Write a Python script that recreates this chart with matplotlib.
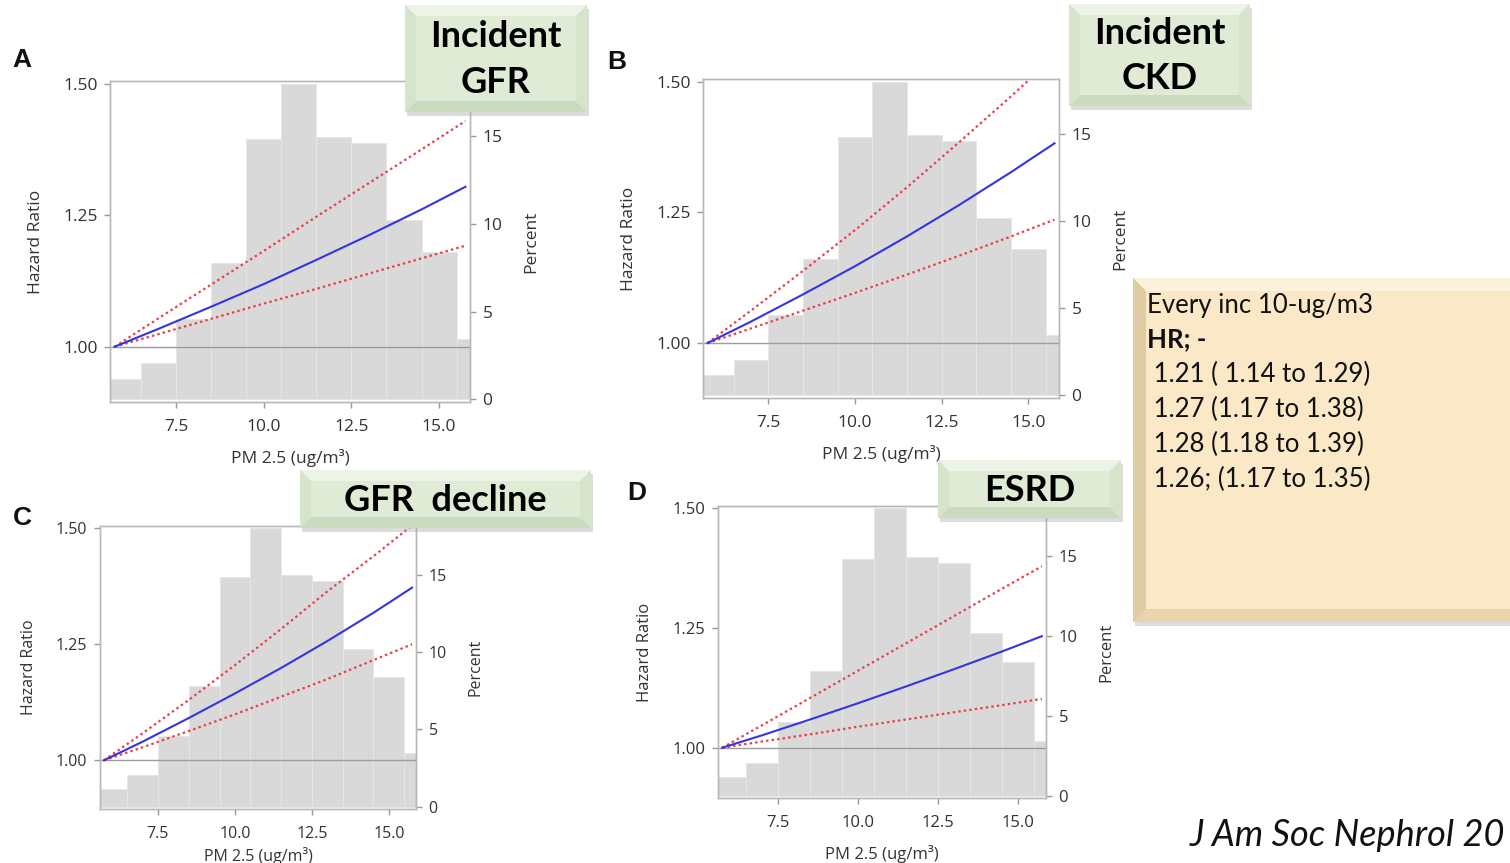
import matplotlib
matplotlib.use("Agg")
import matplotlib.pyplot as plt
from matplotlib.patches import Polygon, Rectangle

W, H = 1510, 863
DPI = 100

# histogram of PM2.5 exposure, identical in all four panels (percent of cohort)
pm_bins = [6, 7, 8, 9, 10, 11, 12, 13, 14, 15, 16]
pm_percent = [1.15, 2.05, 4.6, 7.8, 14.85, 18.0, 14.95, 14.6, 10.2, 8.4, 3.45]

# hazard ratio curves
curve_x = [5.75, 7.0, 8.5, 10.0, 11.5, 13.0, 14.5, 15.75]

hr_a = [1.0, 1.034, 1.076, 1.119, 1.165, 1.212, 1.261, 1.304]
hi_a = [1.0, 1.054, 1.118, 1.182, 1.247, 1.311, 1.375, 1.429]
lo_a = [1.0, 1.024, 1.053, 1.082, 1.110, 1.139, 1.168, 1.192]

hr_b = [1.0, 1.041, 1.093, 1.147, 1.204, 1.264, 1.327, 1.382]
hi_b = [1.0, 1.062, 1.138, 1.216, 1.298, 1.384, 1.472, 1.548]
lo_b = [1.0, 1.028, 1.062, 1.096, 1.131, 1.167, 1.204, 1.236]

hr_c = [1.0, 1.040, 1.091, 1.144, 1.199, 1.257, 1.318, 1.372]
hi_c = [1.0, 1.058, 1.130, 1.205, 1.283, 1.364, 1.440, 1.506]
lo_c = [1.0, 1.028, 1.063, 1.099, 1.137, 1.175, 1.216, 1.250]

hr_d = [1.0, 1.026, 1.059, 1.093, 1.128, 1.164, 1.201, 1.233]
hi_d = [1.0, 1.047, 1.104, 1.161, 1.218, 1.275, 1.332, 1.379]
lo_d = [1.0, 1.013, 1.028, 1.044, 1.059, 1.074, 1.089, 1.102]

hr_ticks = [1.0, 1.25, 1.5]
pct_ticks = [0, 5, 10, 15]
pm_ticks = [7.5, 10.0, 12.5, 15.0]

panel_letters = ["A", "B", "C", "D"]
box_titles = ["Incident\nGFR", "Incident\nCKD", "GFR  decline", "ESRD"]
info_lines = ["Every inc 10-ug/m3", "HR; -", " 1.21 ( 1.14 to 1.29)",
              " 1.27 (1.17 to 1.38)", " 1.28 (1.18 to 1.39)", " 1.26; (1.17 to 1.35)"]
citation = "J Am Soc Nephrol 20"

FONT = ["Open Sans", "DejaVu Sans"]
plt.rcParams["font.family"] = FONT

fig = plt.figure(figsize=(W / DPI, H / DPI), dpi=DPI)
fig.patch.set_facecolor("white")


def px_axes(l, t, r, b):
    return fig.add_axes([l / W, 1 - b / H, (r - l) / W, (b - t) / H])


def draw_panel(box, fs, xpad, hr, hi, lo):
    ax = px_axes(*box)
    ax2 = ax.twinx()
    ax2.bar(pm_bins, pm_percent, width=1.0, color="#d9d9d9", edgecolor="#e6e6e6", linewidth=0.7)
    ax2.set_ylim(-0.15, 18.15)
    ax2.set_yticks(pct_ticks)
    ax2.set_ylabel("Percent", fontsize=fs, color="#333333", labelpad=15)
    ax.set_zorder(ax2.get_zorder() + 1)
    ax.patch.set_visible(False)

    ax.axhline(1.0, color="#9c9c9c", lw=1.0, zorder=1)
    ax.plot(curve_x, hi, color="#e8404a", lw=1.6, ls=(0, (1.1, 1.4)))
    ax.plot(curve_x, lo, color="#e8404a", lw=1.6, ls=(0, (1.1, 1.4)))
    ax.plot(curve_x, hr, color="#3434e0", lw=1.5)

    ax.set_xlim(5.62, 15.88)
    ax.set_ylim(0.895, 1.505)
    ax.set_yticks(hr_ticks)
    ax.set_yticklabels(["%.2f" % v for v in hr_ticks])
    ax.set_xticks(pm_ticks)
    ax.set_xticklabels(["%.1f" % v for v in pm_ticks])
    ax.set_ylabel("Hazard Ratio", fontsize=fs, color="#333333", labelpad=14)
    ax.set_xlabel("PM 2.5 (ug/m³)", fontsize=fs, color="#333333", labelpad=xpad)

    for a in (ax, ax2):
        for s in a.spines.values():
            s.set_color("#b8b8b8")
            s.set_linewidth(1.0)
        a.tick_params(colors="#999999", labelcolor="#333333", labelsize=fs, length=4, width=1, pad=5)
    ax.tick_params(axis="x", pad=8)
    return ax


panel_boxes = [(110, 81, 470, 402), (703, 79, 1059, 398), (100, 526, 416, 809), (718, 506, 1046, 798)]
panel_fs = [12.5, 12.5, 11.5, 12]
panel_xpad = [10, 10, 4, 10]
curves = [(hr_a, hi_a, lo_a), (hr_b, hi_b, lo_b), (hr_c, hi_c, lo_c), (hr_d, hi_d, lo_d)]
for box, fs, xpad, (hr, hi, lo) in zip(panel_boxes, panel_fs, panel_xpad, curves):
    draw_panel(box, fs, xpad, hr, hi, lo)

# overlay in pixel coordinates for the slide decorations
ov = fig.add_axes([0, 0, 1, 1])
ov.set_xlim(0, W)
ov.set_ylim(H, 0)
ov.axis("off")
ov.set_zorder(20)


def bevel_box(x0, y0, x1, y1, face, light, dark, side, d=12):
    ov.add_patch(Rectangle((x0 + 2, y0 + 4), x1 - x0, y1 - y0, color="#a8a8a8", alpha=0.4, lw=0))
    ov.add_patch(Rectangle((x0, y0), x1 - x0, y1 - y0, color=face, lw=0))
    ov.add_patch(Polygon([(x0, y0), (x1, y0), (x1 - d, y0 + d), (x0 + d, y0 + d)], color=light, lw=0))
    ov.add_patch(Polygon([(x0, y1), (x1, y1), (x1 - d, y1 - d), (x0 + d, y1 - d)], color=dark, lw=0))
    ov.add_patch(Polygon([(x0, y0), (x0 + d, y0 + d), (x0 + d, y1 - d), (x0, y1)], color=side, lw=0))
    ov.add_patch(Polygon([(x1, y0), (x1 - d, y0 + d), (x1 - d, y1 - d), (x1, y1)], color=side, lw=0))


green = dict(face="#dfebd5", light="#edf4e7", dark="#cadbbe", side="#d5e4cb")
title_boxes = [(405, 5, 587, 112), (1069, 4, 1250, 106), (300, 470, 591, 528), (938, 460, 1121, 518)]
for (x0, y0, x1, y1), title in zip(title_boxes, box_titles):
    bevel_box(x0, y0, x1, y1, d=11, **green)
    ov.text((x0 + x1) / 2, (y0 + y1) / 2 + 1, title, ha="center", va="center", fontsize=26,
            fontweight="bold", family=["Lato", "DejaVu Sans"], color="black", linespacing=1.45)

# summary box
bevel_box(1133, 278, 1540, 622, face="#fae8c6", light="#fdf2dc", dark="#e8d5ac", side="#e0cca2", d=13)
line_y = [305, 339, 374, 409, 444, 479]
for i, (txt, y) in enumerate(zip(info_lines, line_y)):
    ov.text(1147, y, txt, ha="left", va="center", fontsize=18.5, family=["Lato", "DejaVu Sans"],
            fontweight="bold" if i == 1 else "normal", color="#111111")

# panel letters
letter_pos = [(22, 60), (617, 62), (22, 518), (637, 493)]
for (x, y), letter in zip(letter_pos, panel_letters):
    ov.text(x, y, letter, ha="center", va="center", fontsize=19, fontweight="bold",
            family=["Liberation Sans", "DejaVu Sans"], color="#111111")

ov.text(1190, 846, citation, ha="left", va="baseline", fontsize=26, style="italic",
        family=["Lato", "DejaVu Sans"], color="#111111")

fig.savefig("out.png", dpi=DPI)
